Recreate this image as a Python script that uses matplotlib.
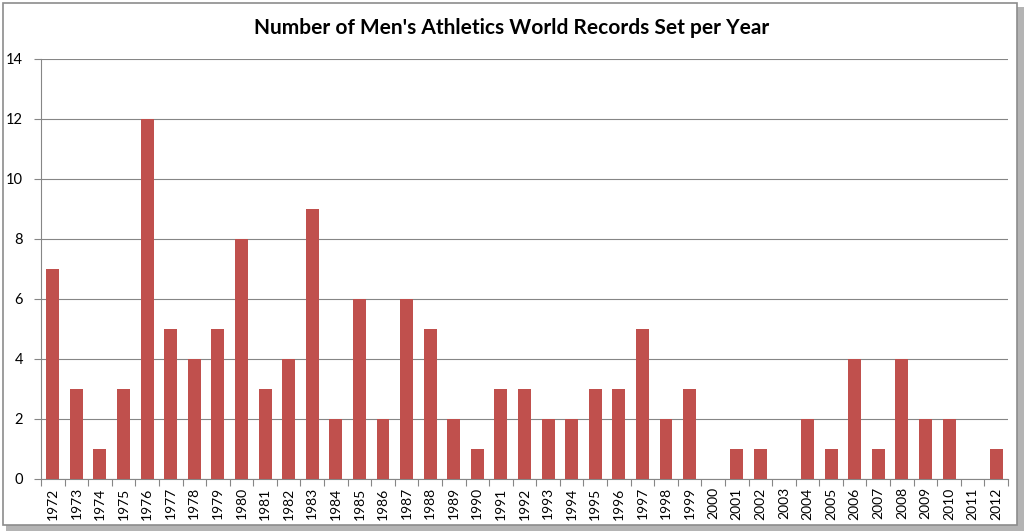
import matplotlib
matplotlib.use("Agg")
import matplotlib.pyplot as plt
from matplotlib.patches import Rectangle

years = [str(y) for y in range(1972, 2013)]
records = [7, 3, 1, 3, 12, 5, 4, 5, 8, 3, 4, 9, 2, 6, 2, 6, 5, 2, 1, 3, 3, 2, 2, 3, 3, 5, 2, 3,
           0, 1, 1, 0, 2, 1, 4, 1, 4, 2, 2, 0, 1]
title = "Number of Men's Athletics World Records Set per Year"
bar_color = "#C0504D"

plt.rcParams['font.family'] = ['Lato', 'DejaVu Sans']

fig = plt.figure(figsize=(10.24, 5.31), dpi=100)
W, H = 1024, 531
# shadow and frame
fig.patches.append(Rectangle((6 / W, 0), (W - 6) / W, (H - 7) / H, transform=fig.transFigure,
                             facecolor="#B4B4B4", edgecolor="none", zorder=0))
fig.patches.append(Rectangle((3 / W, 6 / H), (W - 10) / W, (H - 9) / H, transform=fig.transFigure,
                             facecolor="white", edgecolor="#8C8C8C", linewidth=1.2, zorder=1))

ax = fig.add_axes([41 / W, 1 - 479 / H, (1008 - 41) / W, (479 - 59) / H])
ax.set_zorder(2)
x = range(len(years))
ax.bar(x, records, width=0.55, color=bar_color, zorder=3)
ax.set_xlim(-0.5, len(years) - 0.5)
ax.set_ylim(0, 14)
ax.set_yticks(range(0, 15, 2))
ax.set_xticks([i - 0.5 for i in range(len(years) + 1)], minor=False)
ax.set_xticklabels([])
ax.set_xticks(list(x), minor=True)
ax.set_xticklabels(years, minor=True, rotation=90, fontsize=10)
ax.tick_params(axis='x', which='minor', length=0, pad=6)
ax.tick_params(axis='x', which='major', length=5, color="#868686", direction='out')
ax.tick_params(axis='y', length=5, color="#868686", labelsize=10.5, pad=8)
ax.yaxis.grid(True, color="#868686", linewidth=0.8, zorder=0)
ax.set_axisbelow(True)
for s in ['top', 'right']:
    ax.spines[s].set_visible(False)
ax.spines['left'].set_color("#868686")
ax.spines['bottom'].set_color("#868686")
ax.set_facecolor("none")

fig.text(0.5, 1 - 28 / H, title, ha='center', va='center', fontsize=15, fontweight='bold', zorder=5)

fig.savefig("out.png", dpi=100)
